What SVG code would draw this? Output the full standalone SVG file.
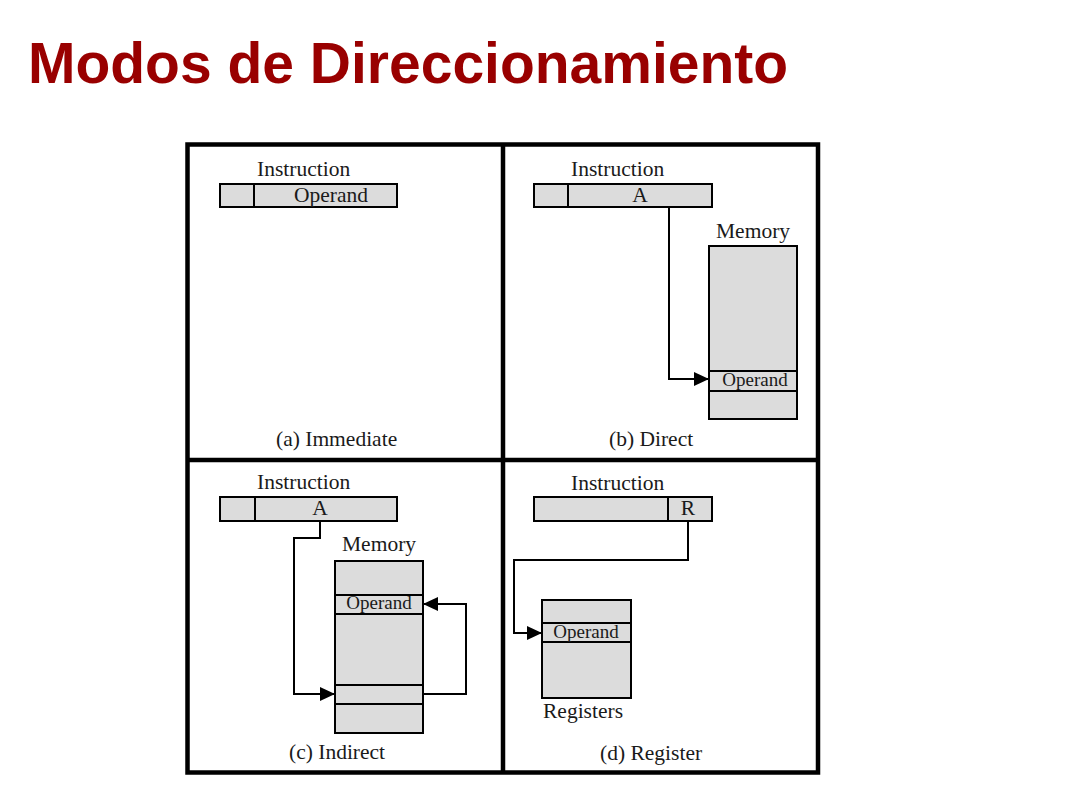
<svg xmlns="http://www.w3.org/2000/svg" width="1066" height="800" viewBox="0 0 1066 800">
<style>
.t{font-family:"Liberation Serif","Times New Roman",serif;font-size:21.5px;fill:#1a1a1a}
.s{font-family:"Liberation Serif","Times New Roman",serif;font-size:19px;fill:#1a1a1a}
.m{text-anchor:middle}
.box{fill:#dcdcdc;stroke:#000;stroke-width:2}
.ln{fill:none;stroke:#000;stroke-width:2}
.frame{fill:none;stroke:#000;stroke-width:4.5}
.title{font-family:"Liberation Sans",Arial,sans-serif;font-weight:bold;font-size:57px;fill:#990000}
</style>
<defs>
<marker id="ah" markerUnits="userSpaceOnUse" markerWidth="16" markerHeight="14" refX="15" refY="7" orient="auto">
<path d="M0,0 L15,7 L0,14 z" fill="#000"/>
</marker>
</defs>
<rect width="1066" height="800" fill="#fff"/>
<text class="title" x="28" y="83">Modos de Direccionamiento</text>

<g id="frame">
<rect class="frame" x="187.5" y="144.5" width="630.5" height="628"/>
<line class="frame" x1="503" y1="144.5" x2="503" y2="772.5"/>
<line class="frame" x1="187.5" y1="460" x2="818" y2="460"/>
</g>

<g id="panel-a">
<text class="t" x="257" y="176">Instruction</text>
<rect class="box" x="220" y="184" width="177" height="23"/>
<line class="ln" x1="254" y1="184" x2="254" y2="207"/>
<text class="t m" x="331" y="202">Operand</text>
<text class="t" x="276" y="446">(a) Immediate</text>
</g>

<g id="panel-b">
<text class="t" x="571" y="176">Instruction</text>
<rect class="box" x="534" y="184" width="178" height="23"/>
<line class="ln" x1="568" y1="184" x2="568" y2="207"/>
<text class="t m" x="640" y="202">A</text>
<text class="t" x="716" y="238">Memory</text>
<rect class="box" x="709" y="246" width="88" height="173"/>
<line class="ln" x1="709" y1="371" x2="797" y2="371"/>
<line class="ln" x1="709" y1="391" x2="797" y2="391"/>
<text class="s m" x="755" y="386">Operand</text>
<text class="t" x="609" y="446">(b) Direct</text>
</g>

<g id="panel-c">
<text class="t" x="257" y="489">Instruction</text>
<rect class="box" x="220" y="497" width="177" height="24"/>
<line class="ln" x1="255" y1="497" x2="255" y2="521"/>
<text class="t m" x="320" y="515">A</text>
<text class="t" x="342" y="551">Memory</text>
<rect class="box" x="335" y="561" width="88" height="172"/>
<line class="ln" x1="335" y1="595" x2="423" y2="595"/>
<line class="ln" x1="335" y1="614" x2="423" y2="614"/>
<line class="ln" x1="335" y1="685" x2="423" y2="685"/>
<line class="ln" x1="335" y1="704" x2="423" y2="704"/>
<text class="s m" x="379" y="609">Operand</text>
<text class="t" x="289" y="759">(c) Indirect</text>
</g>

<g id="panel-d">
<text class="t" x="571" y="490">Instruction</text>
<rect class="box" x="534" y="497" width="178" height="24"/>
<line class="ln" x1="668" y1="497" x2="668" y2="521"/>
<text class="t m" x="688" y="515">R</text>
<rect class="box" x="542" y="600" width="89" height="98"/>
<line class="ln" x1="542" y1="623" x2="631" y2="623"/>
<line class="ln" x1="542" y1="642" x2="631" y2="642"/>
<text class="s m" x="586" y="638">Operand</text>
<text class="t" x="543" y="718">Registers</text>
<text class="t" x="600" y="760">(d) Register</text>
</g>

<g id="connectors">
<path class="ln" d="M669,208 V379 H709" marker-end="url(#ah)"/>
<path class="ln" d="M320,522 V538 H294 V694 H335" marker-end="url(#ah)"/>
<path class="ln" d="M423,694 H466 V604 H423" marker-end="url(#ah)"/>
<path class="ln" d="M688,522 V560 H514 V633 H542" marker-end="url(#ah)"/>
</g>
</svg>
